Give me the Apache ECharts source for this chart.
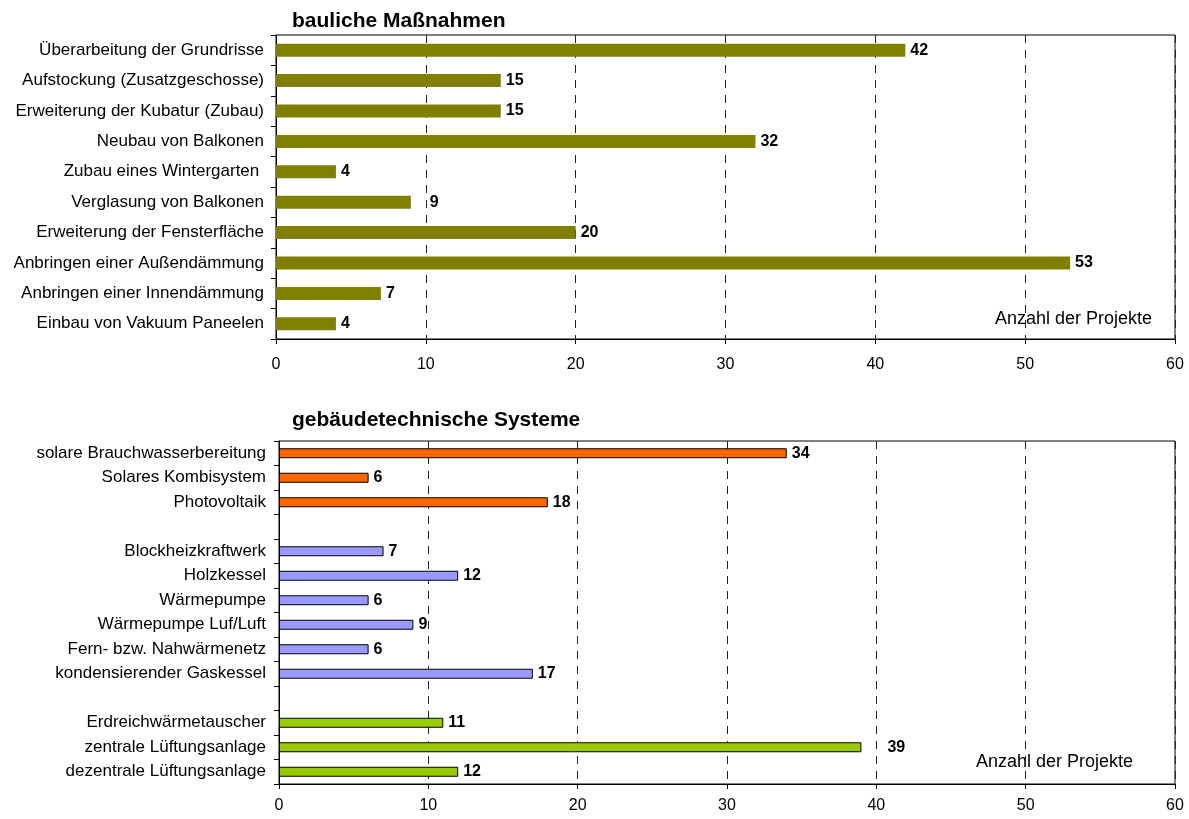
<!DOCTYPE html>
<html><head><meta charset="utf-8">
<script src="https://cdn.jsdelivr.net/npm/echarts@6/dist/echarts.min.js"></script>
<style>html,body{margin:0;padding:0;background:#fff}#c{width:1189px;height:819px}</style>
</head><body><div id="c"></div>
<script>
const topCategories = ["Überarbeitung der Grundrisse","Aufstockung (Zusatzgeschosse)","Erweiterung der Kubatur (Zubau)","Neubau von Balkonen","Zubau eines Wintergarten ","Verglasung von Balkonen","Erweiterung der Fensterfläche","Anbringen einer Außendämmung","Anbringen einer Innendämmung","Einbau von Vakuum Paneelen"];
const topValues = [42,15,15,32,4,9,20,53,7,4];

const bottomCategories = ["solare Brauchwasserbereitung","Solares Kombisystem","Photovoltaik","","Blockheizkraftwerk","Holzkessel","Wärmepumpe","Wärmepumpe Luf/Luft","Fern- bzw. Nahwärmenetz","kondensierender Gaskessel","","Erdreichwärmetauscher","zentrale Lüftungsanlage","dezentrale Lüftungsanlage"];
const bottomValues = [34,6,18,null,7,12,6,9,6,17,null,11,39,12];
const bottomGroups = [0,0,0,-1,1,1,1,1,1,1,-1,2,2,2];
const groupColors = ["#FF6600","#9999FF","#99CC00"];
const xTicks = [0,10,20,30,40,50,60];

const chart = echarts.init(document.getElementById('c'));
const font = "'Liberation Sans', Arial, sans-serif";

const topData = topValues.map((v,i)=>({value:v, label:{distance: v===9 ? 19 : 5}}));
const bottomData = bottomValues.map((v,i)=>({
  value:v,
  itemStyle:{color: bottomGroups[i]>=0 ? groupColors[bottomGroups[i]] : 'transparent'},
  label:{distance: v===39 ? 26 : 5}
}));

const xAxisCommon = {
  type:'value', min:xTicks[0], max:xTicks[xTicks.length-1], interval:10,
  axisLine:{show:true,lineStyle:{color:'#000',width:1}},
  axisTick:{show:true,length:5,lineStyle:{color:'#000'}},
  axisLabel:{color:'#000',fontFamily:font,fontSize:16},
  splitLine:{show:true,lineStyle:{color:'#222',type:[8,7],width:1}}
};
const yAxisCommon = {
  type:'category', inverse:true,
  axisLine:{show:true,lineStyle:{color:'#000',width:1}},
  axisTick:{show:true,length:5,inside:false,lineStyle:{color:'#000'}},
  axisLabel:{color:'#000',fontFamily:font,fontSize:17},
  splitLine:{show:false}
};

chart.setOption({
  animation:false,
  backgroundColor:'#fff',
  title:[
    {text:'bauliche Maßnahmen', left:287, top:6, textStyle:{fontFamily:font,fontSize:21,fontWeight:'bold',color:'#000'}},
    {text:'gebäudetechnische Systeme', left:287, top:405, textStyle:{fontFamily:font,fontSize:21,fontWeight:'bold',color:'#000'}}
  ],
  grid:[
    {left:276, right:14, top:35, height:304, show:true, borderColor:'#000', borderWidth:1, containLabel:false},
    {left:279, right:14, top:441, height:343, show:true, borderColor:'#000', borderWidth:1, containLabel:false}
  ],
  xAxis:[
    Object.assign({}, xAxisCommon, {gridIndex:0, axisLabel:Object.assign({},xAxisCommon.axisLabel,{margin:18})}),
    Object.assign({}, xAxisCommon, {gridIndex:1, axisLabel:Object.assign({},xAxisCommon.axisLabel,{margin:14})})
  ],
  yAxis:[
    Object.assign({}, yAxisCommon, {gridIndex:0, data:topCategories, axisLabel:Object.assign({},yAxisCommon.axisLabel,{margin:12})}),
    Object.assign({}, yAxisCommon, {gridIndex:1, data:bottomCategories, axisLabel:Object.assign({},yAxisCommon.axisLabel,{margin:13})})
  ],
  series:[
    {type:'bar', xAxisIndex:0, yAxisIndex:0, data:topData, barWidth:13,
     itemStyle:{color:'#808000'},
     label:{show:true,position:'right',color:'#000',fontFamily:font,fontSize:16,fontWeight:'bold'}},
    {type:'bar', xAxisIndex:1, yAxisIndex:1, data:bottomData, barWidth:10,
     itemStyle:{borderColor:'#000',borderWidth:1},
     label:{show:true,position:'right',color:'#000',fontFamily:font,fontSize:16,fontWeight:'bold'}}
  ],
  graphic:[
    {type:'text', left:995, top:310, style:{text:'Anzahl der Projekte', fontFamily:font, fontSize:18, fill:'#000'}},
    {type:'text', left:976, top:753, style:{text:'Anzahl der Projekte', fontFamily:font, fontSize:18, fill:'#000'}}
  ]
});
</script></body></html>
